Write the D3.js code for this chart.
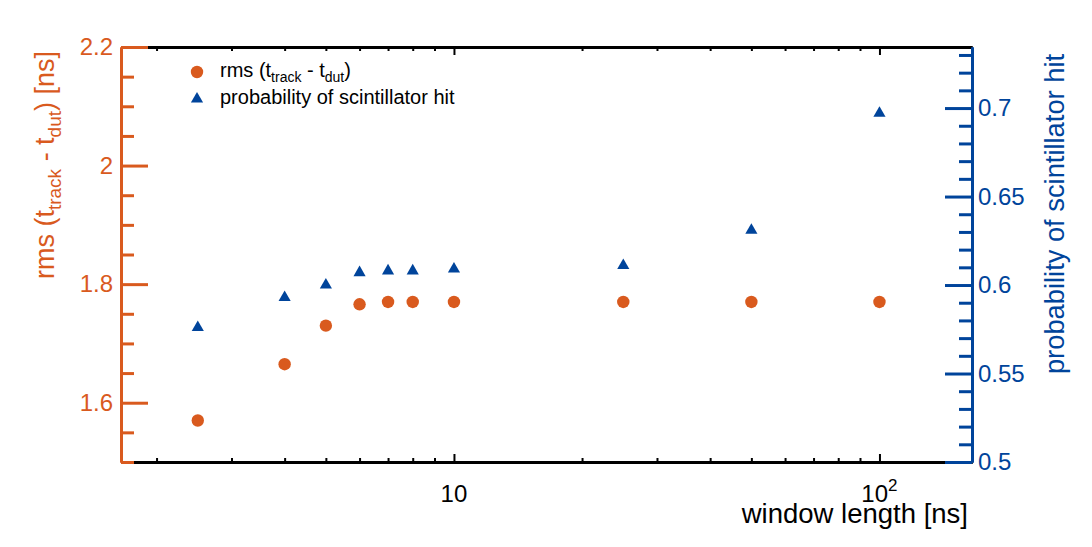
<!DOCTYPE html>
<html>
<head>
<meta charset="utf-8">
<script src="https://cdn.jsdelivr.net/npm/d3@7"></script>
<style>
  body { margin: 0; background: #fff; }
  svg { font-family: "Liberation Sans", Arial, Helvetica, sans-serif; }
</style>
</head>
<body>
<svg id="chart" width="1092" height="547"></svg>
<script>
// data
var windowLength = [2.5, 4, 5, 6, 7, 8, 10, 25, 50, 100];
var rmsValues = [1.57, 1.665, 1.73, 1.766, 1.77, 1.77, 1.77, 1.77, 1.77, 1.77];
var hitProbability = [0.576, 0.593, 0.600, 0.607, 0.608, 0.608, 0.609, 0.611, 0.631, 0.697];

var rmsTicks = [1.6, 1.8, 2.0, 2.2];
var rmsMinorTicks = [1.5, 1.55, 1.65, 1.7, 1.75, 1.85, 1.9, 1.95, 2.05, 2.1, 2.15];
var probTicks = [0.5, 0.55, 0.6, 0.65, 0.7];
var probMinorTicks = [0.51, 0.52, 0.53, 0.54, 0.56, 0.57, 0.58, 0.59, 0.61, 0.62, 0.63, 0.64,
                      0.66, 0.67, 0.68, 0.69, 0.71, 0.72, 0.73];
var xMajorTicks = [10, 100];
var xMinorTicks = [2, 3, 4, 5, 6, 7, 8, 9, 20, 30, 40, 50, 60, 70, 80, 90];

var orange = '#d95a1e';
var blue = '#00449b';

var box = { left: 121, right: 972, top: 47, bottom: 462 };

var svg = d3.select('#chart');

var x = d3.scaleLog().domain([1.65, 165]).range([box.left, box.right]);
var yLeft = d3.scaleLinear().domain([1.5, 2.2]).range([box.bottom, box.top]);
var yRight = d3.scaleLinear().domain([0.5, 0.7345]).range([box.bottom, box.top]);

// frame top / bottom (black, log ticks pointing inwards)
var styleAxis = function(g, color, width) {
  g.select('.domain').attr('stroke', color).attr('stroke-width', width);
  g.selectAll('.tick line').attr('stroke', color).attr('stroke-width', 2);
};

var bottomMinor = svg.append('g')
  .attr('transform', 'translate(0,' + box.bottom + ')')
  .call(d3.axisBottom(x).tickValues(xMinorTicks).tickSizeInner(-4).tickSizeOuter(0).tickFormat(''));
styleAxis(bottomMinor, '#000', 3);
var bottomMajor = svg.append('g')
  .attr('transform', 'translate(0,' + box.bottom + ')')
  .call(d3.axisBottom(x).tickValues(xMajorTicks).tickSizeInner(-8).tickSizeOuter(0).tickFormat(''));
styleAxis(bottomMajor, '#000', 3);

var topMinor = svg.append('g')
  .attr('transform', 'translate(0,' + box.top + ')')
  .call(d3.axisTop(x).tickValues(xMinorTicks).tickSizeInner(-4).tickSizeOuter(0).tickFormat(''));
styleAxis(topMinor, '#000', 3);
var topMajor = svg.append('g')
  .attr('transform', 'translate(0,' + box.top + ')')
  .call(d3.axisTop(x).tickValues(xMajorTicks).tickSizeInner(-8).tickSizeOuter(0).tickFormat(''));
styleAxis(topMajor, '#000', 3);

// x tick labels: 10 and 10^2
var xLabels = svg.append('g')
  .attr('font-size', 24)
  .attr('fill', '#000')
  .attr('text-anchor', 'middle');
xLabels.selectAll('text')
  .data(xMajorTicks)
  .enter().append('text')
  .attr('x', function(d) { return x(d); })
  .attr('y', box.bottom + 40)
  .each(function(d) {
    var t = d3.select(this);
    var p = Math.round(Math.log10(d));
    if (p === 1) {
      t.text('10');
    } else {
      t.append('tspan').text('10');
      t.append('tspan').attr('font-size', 17).attr('dy', -11).text(p);
    }
  });

svg.append('text')
  .attr('x', 968)
  .attr('y', 523)
  .attr('text-anchor', 'end')
  .attr('font-size', 27.5)
  .attr('fill', '#000')
  .text('window length [ns]');

// left axis (orange)
var leftMinor = svg.append('g')
  .attr('transform', 'translate(' + box.left + ',0)')
  .call(d3.axisLeft(yLeft).tickValues(rmsMinorTicks).tickSizeInner(-13).tickSizeOuter(0).tickFormat(''));
styleAxis(leftMinor, orange, 3);
leftMinor.selectAll('.tick line').attr('stroke-width', 3);
var leftMajor = svg.append('g')
  .attr('transform', 'translate(' + box.left + ',0)')
  .call(d3.axisLeft(yLeft).tickValues(rmsTicks).tickSizeInner(-27).tickSizeOuter(0).tickPadding(8)
    .tickFormat(function(d) { return d === 2 ? '2' : d3.format('.1f')(d); }));
styleAxis(leftMajor, orange, 3);
leftMajor.selectAll('.tick line').attr('stroke-width', 3);
leftMajor.selectAll('.tick text')
  .attr('fill', orange)
  .attr('font-size', 24)
  .attr('font-family', '"Liberation Sans", Arial, sans-serif');

// right axis (blue)
var rightMinor = svg.append('g')
  .attr('transform', 'translate(' + box.right + ',0)')
  .call(d3.axisRight(yRight).tickValues(probMinorTicks).tickSizeInner(-13).tickSizeOuter(0).tickFormat(''));
styleAxis(rightMinor, blue, 3);
rightMinor.selectAll('.tick line').attr('stroke-width', 3);
var rightMajor = svg.append('g')
  .attr('transform', 'translate(' + box.right + ',0)')
  .call(d3.axisRight(yRight).tickValues(probTicks).tickSizeInner(-27).tickSizeOuter(0).tickPadding(6)
    .tickFormat(function(d) { return String(d); }));
styleAxis(rightMajor, blue, 3);
rightMajor.selectAll('.tick line').attr('stroke-width', 3);
rightMajor.selectAll('.tick text')
  .attr('fill', blue)
  .attr('font-size', 24)
  .attr('font-family', '"Liberation Sans", Arial, sans-serif');

// axis titles
var leftTitle = svg.append('text')
  .attr('transform', 'translate(54,' + ((box.top + 283) / 2) + ') rotate(-90)')
  .attr('text-anchor', 'middle')
  .attr('font-size', 27)
  .attr('fill', orange);
leftTitle.append('tspan').text('rms (t');
leftTitle.append('tspan').attr('font-size', 19).attr('dy', 7).text('track');
leftTitle.append('tspan').attr('dy', -7).text(' - t');
leftTitle.append('tspan').attr('font-size', 19).attr('dy', 7).text('dut');
leftTitle.append('tspan').attr('dy', -7).text(') [ns]');

svg.append('text')
  .attr('transform', 'translate(1064,' + ((box.top + 377) / 2 + 2) + ') rotate(-90)')
  .attr('text-anchor', 'middle')
  .attr('font-size', 27.3)
  .attr('fill', blue)
  .text('probability of scintillator hit');

// markers
var points = windowLength.map(function(w, i) {
  return { w: w, rms: rmsValues[i], prob: hitProbability[i] };
});

svg.append('g').selectAll('circle')
  .data(points)
  .enter().append('circle')
  .attr('cx', function(d) { return x(d.w); })
  .attr('cy', function(d) { return yLeft(d.rms); })
  .attr('r', 6.2)
  .attr('fill', orange);

var triangle = d3.symbol().type(d3.symbolTriangle).size(64);
svg.append('g').selectAll('path')
  .data(points)
  .enter().append('path')
  .attr('d', triangle)
  .attr('transform', function(d) { return 'translate(' + x(d.w) + ',' + yRight(d.prob) + ')'; })
  .attr('fill', blue);

// legend
var legend = svg.append('g').attr('font-size', 20).attr('fill', '#000');
legend.append('circle').attr('cx', 197).attr('cy', 72).attr('r', 6.2).attr('fill', orange);
legend.append('path').attr('d', triangle).attr('transform', 'translate(197,99)').attr('fill', blue);
var legendRms = legend.append('text').attr('x', 220).attr('y', 77);
legendRms.append('tspan').text('rms (t');
legendRms.append('tspan').attr('font-size', 14).attr('dy', 5).text('track');
legendRms.append('tspan').attr('dy', -5).text(' - t');
legendRms.append('tspan').attr('font-size', 14).attr('dy', 5).text('dut');
legendRms.append('tspan').attr('dy', -5).text(')');
legend.append('text').attr('x', 220).attr('y', 104).text('probability of scintillator hit');
</script>
</body>
</html>
